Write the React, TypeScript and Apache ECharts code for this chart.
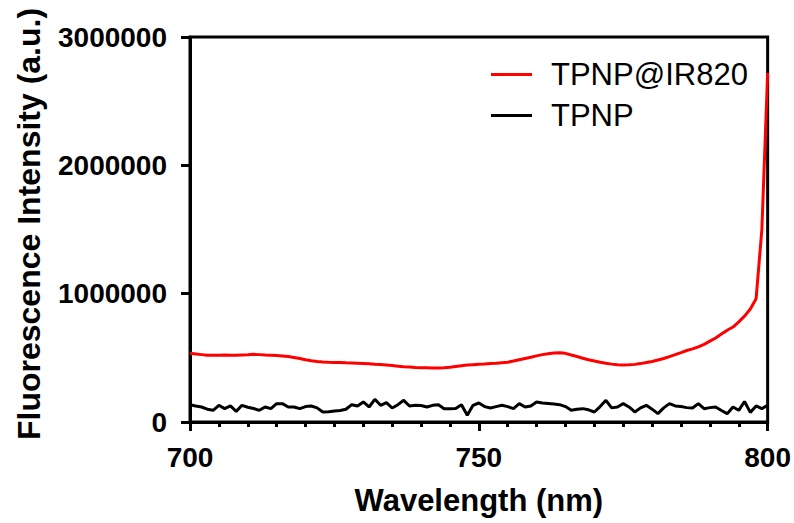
import React, { useEffect, useRef } from "react";
import * as echarts from "echarts";

const wavelengths = [
  700, 701, 702, 703, 704, 705, 706, 707, 708, 709,
  710, 711, 712, 713, 714, 715, 716, 717, 718, 719,
  720, 721, 722, 723, 724, 725, 726, 727, 728, 729,
  730, 731, 732, 733, 734, 735, 736, 737, 738, 739,
  740, 741, 742, 743, 744, 745, 746, 747, 748, 749,
  750, 751, 752, 753, 754, 755, 756, 757, 758, 759,
  760, 761, 762, 763, 764, 765, 766, 767, 768, 769,
  770, 771, 772, 773, 774, 775, 776, 777, 778, 779,
  780, 781, 782, 783, 784, 785, 786, 787, 788, 789,
  790, 791, 792, 793, 794, 795, 796, 797, 798, 799,
  800,
];

// TPNP@IR820 (millions)
const tpnpIR820 = [
  0.535, 0.53, 0.525, 0.52, 0.52, 0.52, 0.522, 0.52, 0.52, 0.522,
  0.524, 0.527, 0.525, 0.522, 0.52, 0.518, 0.514, 0.51, 0.503, 0.495,
  0.485, 0.478, 0.472, 0.468, 0.465, 0.464, 0.463, 0.461, 0.46, 0.458,
  0.456, 0.454, 0.45, 0.448, 0.445, 0.44, 0.435, 0.43, 0.428, 0.425,
  0.423, 0.422, 0.42, 0.42, 0.422, 0.426, 0.432, 0.438, 0.444, 0.447,
  0.45, 0.452, 0.455, 0.458, 0.462, 0.466, 0.475, 0.485, 0.495, 0.505,
  0.515, 0.525, 0.532, 0.538, 0.54, 0.535, 0.522, 0.51, 0.497, 0.485,
  0.475, 0.465, 0.457, 0.451, 0.447, 0.445, 0.446, 0.449, 0.455, 0.463,
  0.472, 0.483, 0.495, 0.51, 0.525, 0.54, 0.557, 0.57, 0.585, 0.605,
  0.63, 0.655, 0.685, 0.715, 0.74, 0.78, 0.825, 0.88, 0.96, 1.5,
  2.72,
];

// TPNP (millions)
const tpnp = [
  0.135, 0.125, 0.117, 0.1, 0.091, 0.13, 0.104, 0.125, 0.083, 0.13,
  0.115, 0.105, 0.091, 0.117, 0.104, 0.143, 0.143, 0.117, 0.117, 0.104,
  0.12, 0.125, 0.11, 0.078, 0.08, 0.085, 0.09, 0.099, 0.135, 0.125,
  0.156, 0.117, 0.177, 0.13, 0.151, 0.109, 0.135, 0.169, 0.125, 0.13,
  0.128, 0.117, 0.13, 0.135, 0.104, 0.104, 0.105, 0.135, 0.052, 0.13,
  0.148, 0.12, 0.109, 0.12, 0.13, 0.12, 0.104, 0.143, 0.117, 0.125,
  0.156, 0.148, 0.145, 0.14, 0.135, 0.12, 0.091, 0.1, 0.104, 0.095,
  0.078, 0.12, 0.169, 0.11, 0.117, 0.143, 0.117, 0.078, 0.11, 0.13,
  0.1, 0.065, 0.11, 0.143, 0.125, 0.12, 0.112, 0.109, 0.143, 0.104,
  0.112, 0.117, 0.09, 0.065, 0.117, 0.091, 0.16, 0.075, 0.125, 0.104,
  0.13,
];

const seriesNames = ["TPNP@IR820", "TPNP"];
const yTicks = [0, 1000000, 2000000, 3000000];
const xTicks = [700, 750, 800];

const FONT = "'Liberation Sans', Arial, sans-serif";

export default function App() {
  const ref = useRef<HTMLDivElement>(null);
  useEffect(() => {
    if (!ref.current) return;
    const chart = echarts.init(ref.current, null, { renderer: "svg" });
    const toPairs = (vals: number[]) => wavelengths.map((w, i) => [w, vals[i] * 1e6]);
    chart.setOption({
      animation: false,
      backgroundColor: "#ffffff",
      grid: {
        left: 190,
        right: 26,
        top: 37,
        bottom: 101,
        show: true,
        borderColor: "#000",
        borderWidth: 3,
        backgroundColor: "transparent",
      },
      legend: {
        orient: "vertical",
        left: 486,
        top: 54,
        itemWidth: 41,
        itemHeight: 3,
        itemGap: 10,
        icon: "rect",
        data: [
          { name: seriesNames[0], itemStyle: { color: "#ff0000" } },
          { name: seriesNames[1], itemStyle: { color: "#000000" } },
        ],
        textStyle: {
          fontFamily: FONT,
          fontSize: 31,
          color: "#000",
          lineHeight: 30,
          padding: [0, 0, 0, 14],
        },
      },
      graphic: [
        {
          type: "text",
          x: 29,
          y: 440,
          rotation: Math.PI / 2,
          style: {
            text: "Fluorescence Intensity (a.u.)",
            fontFamily: FONT,
            fontWeight: "bold",
            fontSize: 32,
            fill: "#000",
            textAlign: "left",
            textVerticalAlign: "middle",
          },
        },
      ],
      xAxis: {
        type: "value",
        min: xTicks[0],
        max: xTicks[xTicks.length - 1],
        interval: xTicks[1] - xTicks[0],
        name: "Wavelength (nm)",
        nameLocation: "middle",
        nameGap: 63,
        nameTextStyle: {
          fontFamily: FONT,
          fontWeight: "bold",
          fontSize: 31,
          color: "#000",
        },
        axisLine: { show: true, onZero: false, lineStyle: { color: "#000", width: 3 } },
        axisTick: { show: true, length: 9, lineStyle: { color: "#000", width: 3 } },
        minorTick: { show: true, splitNumber: 10, length: 5, lineStyle: { color: "#000", width: 3 } },
        splitLine: { show: false },
        minorSplitLine: { show: false },
        axisLabel: {
          margin: 21,
          fontFamily: FONT,
          fontWeight: "bold",
          fontSize: 28,
          color: "#000",
          formatter: (v: number) => String(v),
        },
      },
      yAxis: {
        type: "value",
        min: yTicks[0],
        max: yTicks[yTicks.length - 1],
        interval: yTicks[1] - yTicks[0],
        axisLine: { show: true, onZero: false, lineStyle: { color: "#000", width: 3 } },
        axisTick: { show: true, length: 9, lineStyle: { color: "#000", width: 3 } },
        splitLine: { show: false },
        axisLabel: {
          margin: 23,
          fontFamily: FONT,
          fontWeight: "bold",
          fontSize: 28,
          color: "#000",
          formatter: (v: number) => String(v),
        },
      },
      series: [
        {
          name: seriesNames[0],
          type: "line",
          data: toPairs(tpnpIR820),
          symbol: "none",
          showSymbol: false,
          lineStyle: { color: "#ff0000", width: 3 },
          itemStyle: { color: "#ff0000" },
          z: 3,
        },
        {
          name: seriesNames[1],
          type: "line",
          data: toPairs(tpnp),
          symbol: "none",
          showSymbol: false,
          lineStyle: { color: "#000000", width: 3 },
          itemStyle: { color: "#000000" },
          z: 2,
        },
      ],
    });
    return () => chart.dispose();
  }, []);
  return (
    <div
      ref={ref}
      style={{ width: 794, height: 523, position: "absolute", left: 0, top: 0 }}
    />
  );
}
